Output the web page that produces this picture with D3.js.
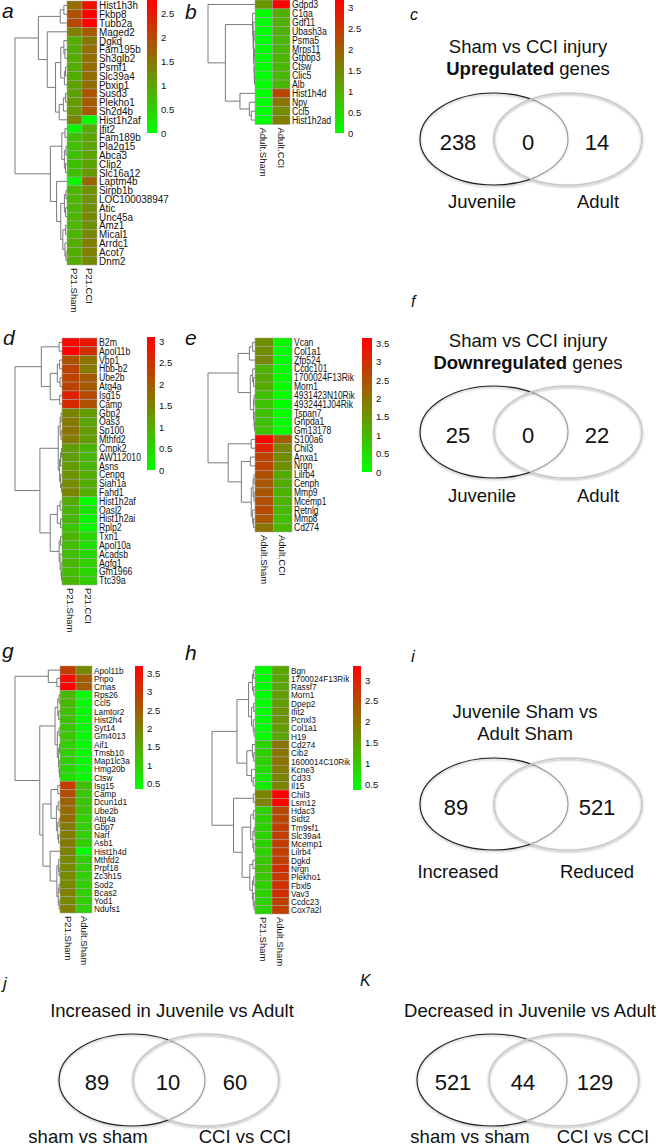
<!DOCTYPE html>
<html>
<head>
<meta charset="utf-8">
<script src="https://cdn.jsdelivr.net/npm/d3@7"></script>
<style>
body { margin: 0; background: #fff; }
</style>
</head>
<body>
<script>
const FONT = '"Liberation Sans", Arial, Helvetica, sans-serif';

// ---- heatmap data: genes, [col1, col2] values, merge trees [height, left, right] ----
const genesA = ["Hist1h3h","Fkbp8","Tubb2a","Maged2","Dgkd","Fam195b","Sh3glb2","Psmf1","Slc39a4","Pbxip1",
    "Susd3","Plekho1","Sh2d4b","Hist1h2af","Ifit2","Fam189b","Pla2g15","Abca3","Clip2","Slc16a12",
    "Laptm4b","Sirpb1b","LOC100038947","Atic","Unc45a","Amz1","Mical1","Arrdc1","Acot7","Dnm2"];
const valsA = [[1.6,2.6],[1.9,2.8],[2.0,2.8],[1.4,1.8],[0.9,1.5],[0.9,1.6],[0.9,1.6],[0.9,1.6],[0.9,1.6],[1.0,1.6],
    [1.0,1.9],[1.1,1.8],[1.1,1.8],[1.3,0.0],[0.1,0.9],[0.7,1.0],[0.7,1.0],[0.7,1.0],[0.7,1.0],[0.7,1.1],
    [0.1,1.7],[0.8,1.2],[0.8,1.2],[0.8,1.2],[0.8,1.3],[0.8,1.2],[0.8,1.3],[0.9,1.4],[0.9,1.4],[0.9,1.3]];
const treeA = [1,
    [0.55, [0.13, [0.06, 0, 1], 2],
           [0.38, 3, [0.22, [0.12, [0.06, 4, [0.04, 5, 6]], [0.05, [0.03, 7, 8], 9]], [0.15, [0.07, [0.03, 10, 11], 12], 13]]]],
    [0.32, [0.1, [0.04, 14, 15], [0.05, [0.02, 16, 17], [0.03, 18, 19]]],
           [0.2, 20, [0.12, [0.05, [0.02, 21, 22], [0.03, 23, 24]], [0.08, [0.03, 25, 26], [0.04, 27, [0.02, 28, 29]]]]]]];
const colsA = ["P21.Sham", "P21.CCI"];
const ticksA = [0, 0.5, 1, 1.5, 2, 2.5];

const genesB = ["Gdpd3","C1qa","Gdf11","Ubash3a","Psma5","Mrps11","Gtpbp3","Ctsw","Clic5","Alb","Hist1h4d","Npy","Ccl5","Hist1h2ad"];
const valsB = [[1.3,3.1],[0,1.0],[0,1.0],[0,1.0],[0,0.9],[0,0.9],[0,0.9],[0,0.9],[0,0.9],[0,0.9],[0,2.3],[0,1.7],[0,1.4],[0,1.6]];
const treeB = [1, 0, [0.63, [0.05, 1, [0.04, 2, [0.03, [0.02, 3, 4], [0.02, [0.01, 5, 6], [0.015, 7, [0.01, 8, 9]]]]]],
                        [0.32, 10, [0.12, 11, [0.08, 12, 13]]]]];
const colsB = ["Adult.Sham", "Adult.CCI"];
const ticksB = [0, 0.5, 1, 1.5, 2, 2.5, 3];

const genesD = ["B2m","Apol11b","Vbp1","Hbb-b2","Ube2b","Atg4a","Isg15","Camp","Gbp2","Oas3","Sp100","Mthfd2","Cmpk2","AW112010",
    "Asns","Cenpq","Siah1a","Fahd1","Hist1h2af","Oasl2","Hist1h2ai","Rplp2","Txn1","Apol10a","Acadsb","Agfg1","Gm1966","Ttc39a"];
const valsD = [[3.0,2.8],[3.1,2.5],[2.1,1.7],[2.3,1.6],[2.3,2.0],[2.3,2.0],[2.7,2.2],[2.6,2.1],[1.5,1.2],[1.6,1.1],
    [1.7,1.2],[1.6,1.2],[1.2,0.9],[1.2,0.9],[1.2,0.9],[1.3,1.0],[1.4,1.0],[1.5,1.0],[1.0,0.05],[0.9,0.3],
    [0.9,0.1],[0.7,0.1],[0.9,0.5],[0.8,0.4],[0.8,0.5],[0.9,0.6],[0.8,0.5],[0.9,0.6]];
const treeD = [1,
    [0.44, [0.06, 0, 1], [0.25, [0.1, [0.05, 2, 3], [0.04, 4, 5]], [0.05, 6, 7]]],
    [0.47, [0.08, [0.04, [0.02, 8, 9], [0.02, 10, 11]], [0.05, [0.03, [0.01, 12, 13], 14], [0.03, 15, [0.01, 16, 17]]]],
           [0.25, [0.1, [0.04, 18, 19], [0.03, 20, 21]], [0.06, [0.03, 22, 23], [0.04, 24, [0.02, 25, [0.01, 26, 27]]]]]]];
const colsD = ["P21.Sham", "P21.CCI"];
const ticksD = [0, 0.5, 1, 1.5, 2, 2.5, 3];

const genesE = ["Vcan","Col1a1","Zfp524","Ccdc101","1700024F13Rik","Morn1","4931423N10Rik","4932441J04Rik","Tspan7","Gnpda1",
    "Gm13178","S100a6","Chil3","Anxa1","Nrgn","Lilrb4","Cenph","Mmp9","Mcemp1","Retnlg","Mmp8","Cd274"];
const valsE = [[1.6,0.1],[1.6,0],[1.7,0],[1.1,0],[1.2,0],[1.2,0],[0.9,0],[0.9,0],[0.9,0],[0.9,0],[0.9,0],
    [3.6,2.3],[3.2,1.7],[2.7,1.6],[2.7,1.6],[2.5,1.2],[2.4,1.2],[2.4,1.1],[2.5,1.1],[2.6,1.0],[2.4,0.9],[2.0,1.0]];
const treeE = [1,
    [0.36, [0.12, [0.05, 0, 1], 2], [0.1, [0.05, 3, [0.03, 4, 5]], [0.03, [0.02, 6, 7], [0.02, 8, [0.01, 9, 10]]]]],
    [0.57, [0.08, 11, 12], [0.29, [0.1, 13, 14], [0.08, [0.04, [0.02, 15, 16], [0.02, 17, 18]], [0.05, 19, [0.03, 20, 21]]]]]];
const colsE = ["Adult.Sham", "Adult.CCI"];
const ticksE = [0, 0.5, 1, 1.5, 2, 2.5, 3, 3.5];

const genesG = ["Apol11b","Pnpo","Cmas","Rps26","Ccl5","Lamtor2","Hist2h4","Syt14","Gm4013","Aif1","Tmsb10","Map1lc3a","Hmg20b","Ctsw",
    "Isg15","Camp","Dcun1d1","Ube2b","Atg4a","Gbp7","Narf","Asb1","Hist1h4d","Mthfd2","Prpf18","Zc3h15","Sod2","Bcas2","Yod1","Ndufs1"];
const valsG = [[2.9,1.9],[3.5,2.5],[3.7,2.5],[1.3,0.4],[1.3,0.4],[1.2,0.4],[1.2,0.4],[1.1,0.4],[1.1,0.4],[1.0,0.4],
    [1.0,0.4],[1.0,0.4],[0.9,0.4],[0.8,0.4],[2.9,1.2],[2.7,1.1],[2.4,1.1],[2.3,1.1],[2.3,1.0],[2.1,1.0],
    [2.1,1.0],[2.1,1.0],[2.0,0.36],[1.9,1.0],[1.9,1.0],[1.9,1.0],[1.9,1.0],[2.0,1.0],[1.9,1.0],[2.0,1.0]];
const treeG = [1,
    [0.26, 0, [0.07, 1, 2]],
    [0.45, [0.11, [0.05, [0.02, 3, 4], [0.03, 5, 6]], [0.06, [0.02, 7, 8], [0.03, [0.01, 9, 10], [0.02, 11, [0.01, 12, 13]]]]],
           [0.38, [0.2, [0.05, 14, 15], [0.08, [0.04, 16, 17], [0.05, [0.02, 18, 19], [0.03, 20, 21]]]],
                  [0.22, 22, [0.07, [0.03, 23, [0.02, 24, 25]], [0.04, [0.02, 26, 27], [0.02, 28, 29]]]]]]];
const colsG = ["P21.Sham", "Adult.Sham"];
const ticksG = [0.5, 1, 1.5, 2, 2.5, 3, 3.5];

const genesH = ["Bgn","1700024F13Rik","Rassf7","Morn1","Dpep2","Ifit2","Pcnxl3","Col1a1","H19","Cd274","Cib2","1600014C10Rik",
    "Kcne3","Cd33","Il15","Chil3","Lsm12","Hdac3","Sidt2","Tm9sf1","Slc39a4","Mcemp1","Lilrb4","Dgkd","Nrgn","Plekho1",
    "Fbxl5","Vav3","Ccdc23","Cox7a2l"];
const valsH = [[0.4,1.4],[0.4,1.4],[0.4,1.4],[0.4,1.5],[0.4,1.5],[0.4,1.6],[0.4,1.6],[0.4,1.5],[0.4,1.4],[0.9,2.0],
    [0.9,2.0],[0.9,2.0],[0.8,1.9],[0.6,1.8],[0.6,1.8],[1.8,3.3],[1.8,3.3],[0.9,2.5],[0.9,2.5],[0.9,2.6],
    [0.9,2.6],[0.9,2.6],[0.9,2.6],[1.0,2.6],[1.1,2.8],[1.0,2.7],[0.9,2.8],[0.9,2.8],[0.9,2.6],[0.9,2.6]];
const treeH = [1,
    [0.42, [0.15, [0.06, [0.03, 0, 1], [0.03, 2, 3]], [0.08, [0.03, 4, 5], [0.04, 6, [0.02, 7, 8]]]],
           [0.19, [0.06, 9, [0.03, 10, 11]], [0.08, 12, [0.04, 13, 14]]]],
    [0.5, [0.04, 15, 16], [0.3, [0.1, [0.04, 17, 18], [0.05, [0.02, 19, 20], [0.03, 21, 22]]],
                               [0.12, [0.05, 23, 24], [0.06, [0.03, 25, 26], [0.04, 27, [0.02, 28, 29]]]]]]];
const colsH = ["P21.Sham", "Adult.Sham"];
const ticksH = [0.5, 1, 1.5, 2, 2.5, 3];

// ---- venn data: [left only, overlap, right only] ----
const countsC = [238, 0, 14];
const setsC = ["Juvenile", "Adult"];
const titleC = ["Sham vs CCI injury", "Upregulated genes"];
const countsF = [25, 0, 22];
const setsF = ["Juvenile", "Adult"];
const titleF = ["Sham vs CCI injury", "Downregulated genes"];
const countsI = [89, null, 521];
const setsI = ["Increased", "Reduced"];
const titleI = ["Juvenile Sham vs", "Adult Sham"];
const countsJ = [89, 10, 60];
const setsJ = ["sham vs sham", "CCI vs CCI"];
const titleJ = ["Increased in Juvenile vs Adult"];
const countsK = [521, 44, 129];
const setsK = ["sham vs sham", "CCI vs CCI"];
const titleK = ["Decreased in Juvenile vs Adult"];

const svg = d3.select("body").append("svg")
    .attr("width", 658)
    .attr("height", 1148)
    .attr("font-family", FONT);

const defs = svg.append("defs");
defs.append("filter").attr("id", "shadow")
    .attr("x", "-10%").attr("y", "-10%").attr("width", "120%").attr("height", "125%")
    .append("feDropShadow")
    .attr("dx", 0).attr("dy", 1.2).attr("stdDeviation", 0.9)
    .attr("flood-color", "#000").attr("flood-opacity", 0.35);

function drawHeatmap(p)
{
    const g = svg.append("g");
    const rows = d3.scaleBand().domain(d3.range(p.genes.length)).range([p.y0, p.y1]);
    const cols = d3.scaleBand().domain(p.cols).range([p.x0, p.x1]);
    const color = d3.scaleLinear().domain(p.range).range(["#00ff00", "#ff0000"]).interpolate(d3.interpolateRgb);

    const cells = p.values.flatMap((v, i) => v.map((val, j) => ({i: i, col: p.cols[j], val: val})));
    g.selectAll("rect.cell").data(cells).join("rect")
        .attr("class", "cell")
        .attr("x", d => cols(d.col))
        .attr("y", d => rows(d.i))
        .attr("width", cols.bandwidth())
        .attr("height", rows.bandwidth())
        .attr("fill", d => color(d.val))
        .attr("stroke", "#a4a4a4")
        .attr("stroke-width", 0.5);

    // gene names, a bit condensed like the R output
    g.selectAll("text.gene").data(p.genes).join("text")
        .attr("class", "gene")
        .attr("transform", (d, i) => `translate(${p.x1 + 2},${rows(i) + rows.bandwidth() / 2}) scale(${p.sx},1)`)
        .attr("dy", "0.36em")
        .attr("font-size", p.fs)
        .attr("fill", "#111")
        .text(d => d);

    g.selectAll("text.col").data(p.cols).join("text")
        .attr("class", "col")
        .attr("transform", d => `translate(${cols(d) + cols.bandwidth() / 2},${p.y1 + 3}) rotate(90)`)
        .attr("dy", "0.35em")
        .attr("font-size", 9.5)
        .attr("fill", "#111")
        .text(d => d);

    // dendrogram from the merge tree
    const hx = d3.scaleLinear().domain([0, 1]).range([p.x0, p.dx]);
    const segs = [];
    function walk(node) {
        if (typeof node === "number") {
            return {x: hx(0), y: rows(node) + rows.bandwidth() / 2};
        }
        const kids = node.slice(1).map(walk);
        const x = hx(node[0]);
        kids.forEach(k => segs.push([[k.x, k.y], [x, k.y]]));
        segs.push([[x, kids[0].y], [x, kids[kids.length - 1].y]]);
        return {x: x, y: (kids[0].y + kids[kids.length - 1].y) / 2};
    }
    walk(p.tree);
    g.append("g").selectAll("path").data(segs).join("path")
        .attr("d", d => d3.line()(d))
        .attr("fill", "none")
        .attr("stroke", "#7a7a7a")
        .attr("stroke-width", 1);

    // colour key
    const y = d3.scaleLinear().domain(p.range).range([p.cb.y1, p.cb.y0]);
    const gradId = "grad-" + p.id;
    const grad = defs.append("linearGradient").attr("id", gradId)
        .attr("x1", 0).attr("y1", 1).attr("x2", 0).attr("y2", 0);
    d3.range(0, 1.0001, 0.1).forEach(t => {
        grad.append("stop")
            .attr("offset", t)
            .attr("stop-color", color(p.range[0] + t * (p.range[1] - p.range[0])));
    });
    g.append("rect")
        .attr("x", p.cb.x)
        .attr("y", p.cb.y0)
        .attr("width", p.cb.w)
        .attr("height", p.cb.y1 - p.cb.y0)
        .attr("fill", `url(#${gradId})`);
    g.append("g")
        .attr("transform", `translate(${p.cb.x + p.cb.w},0)`)
        .call(d3.axisRight(y).tickValues(p.ticks).tickSize(0).tickPadding(4).tickFormat(d3.format("")))
        .call(a => a.select(".domain").remove())
        .attr("font-family", FONT)
        .attr("font-size", 9.5)
        .selectAll("text").attr("fill", "#111");

    g.append("text")
        .attr("x", p.letter[1])
        .attr("y", p.letter[2])
        .attr("font-size", 21)
        .attr("font-style", "italic")
        .attr("fill", "#111")
        .text(p.letter[0]);
}

function drawVenn(v)
{
    const g = svg.append("g");
    g.append("text")
        .attr("x", v.letter[1]).attr("y", v.letter[2])
        .attr("font-size", v.letter[3]).attr("font-style", "italic").attr("fill", "#111")
        .text(v.letter[0]);

    v.title.forEach((line, i) => {
        const t = g.append("text")
            .attr("x", v.tx)
            .attr("y", v.ty + i * 21.5)
            .attr("text-anchor", "middle")
            .attr("font-size", 18.5)
            .attr("fill", "#111");
        if (v.bold && i === 1) {
            const word = line.split(" ")[0];
            t.append("tspan").attr("font-weight", "bold").text(word);
            t.append("tspan").text(line.slice(word.length));
        } else {
            t.text(line);
        }
    });

    // dark set outline, pale veil + pale outline of the second set on top
    g.append("ellipse")
        .attr("cx", v.cx[0]).attr("cy", v.cy).attr("rx", v.rx).attr("ry", v.ry)
        .attr("fill", "none").attr("stroke", "#1e1e1e").attr("stroke-width", 1.1)
        .attr("filter", "url(#shadow)");
    g.append("ellipse")
        .attr("cx", v.cx[1]).attr("cy", v.cy).attr("rx", v.rx).attr("ry", v.ry)
        .attr("fill", "#fff").attr("fill-opacity", 0.55).attr("stroke", "none");
    g.append("ellipse")
        .attr("cx", v.cx[1]).attr("cy", v.cy).attr("rx", v.rx).attr("ry", v.ry)
        .attr("fill", "none")
        .attr("stroke", "#c8c8c8").attr("stroke-width", 1.5)
        .attr("filter", "url(#shadow)");

    g.selectAll("text.num").data(v.counts.map((c, i) => ({c: c, x: v.nx[i]})).filter(d => d.c !== null))
        .join("text")
        .attr("class", "num")
        .attr("x", d => d.x).attr("y", v.ny)
        .attr("text-anchor", "middle")
        .attr("font-size", 22)
        .attr("fill", "#111")
        .text(d => d.c);

    g.selectAll("text.set").data(v.sets).join("text")
        .attr("class", "set")
        .attr("x", (d, i) => v.lx[i]).attr("y", v.ly)
        .attr("text-anchor", "middle")
        .attr("font-size", 18.5)
        .attr("fill", "#111")
        .text(d => d);
}

drawHeatmap({id: "a", genes: genesA, values: valsA, cols: colsA, tree: treeA, ticks: ticksA, range: [0, 2.79],
    x0: 67, x1: 97, y0: 1, y1: 265, dx: 15, fs: 11, sx: 0.9, cb: {x: 147, w: 10, y0: 0, y1: 133}, letter: ["a", 2, 18]});
drawHeatmap({id: "b", genes: genesB, values: valsB, cols: colsB, tree: treeB, ticks: ticksB, range: [0, 3.17],
    x0: 255, x1: 290, y0: 0, y1: 124.5, dx: 208, fs: 10, sx: 0.87, cb: {x: 335, w: 9, y0: 0, y1: 133}, letter: ["b", 185, 19]});
drawHeatmap({id: "d", genes: genesD, values: valsD, cols: colsD, tree: treeD, ticks: ticksD, range: [0, 3.1],
    x0: 62, x1: 97, y0: 338, y1: 585, dx: 15, fs: 10, sx: 0.87, cb: {x: 147, w: 8, y0: 337, y1: 470}, letter: ["d", 3, 345]});
drawHeatmap({id: "e", genes: genesE, values: valsE, cols: colsE, tree: treeE, ticks: ticksE, range: [0, 3.64],
    x0: 255, x1: 292, y0: 338, y1: 532, dx: 208, fs: 10, sx: 0.85, cb: {x: 362, w: 10, y0: 338, y1: 472}, letter: ["e", 185, 345]});
drawHeatmap({id: "g", genes: genesG, values: valsG, cols: colsG, tree: treeG, ticks: ticksG, range: [0.36, 3.69],
    x0: 60, x1: 92, y0: 666, y1: 913, dx: 15, fs: 9.5, sx: 0.87, cb: {x: 135, w: 8, y0: 666, y1: 789}, letter: ["g", 2, 658]});
drawHeatmap({id: "h", genes: genesH, values: valsH, cols: colsH, tree: treeH, ticks: ticksH, range: [0.36, 3.34],
    x0: 255, x1: 289, y0: 666, y1: 914, dx: 212, fs: 9.5, sx: 0.87, cb: {x: 353, w: 8, y0: 666, y1: 790}, letter: ["h", 185, 660]});

drawVenn({letter: ["c", 410, 20, 16], title: titleC, bold: true, tx: 528, ty: 53, counts: countsC, sets: setsC,
    cx: [494, 568], cy: 139, rx: 74, ry: 46, nx: [458, 528, 597], ny: 150, lx: [482, 598], ly: 208});
drawVenn({letter: ["f", 411, 307, 16], title: titleF, bold: true, tx: 528, ty: 347, counts: countsF, sets: setsF,
    cx: [494, 568], cy: 432, rx: 74, ry: 46, nx: [458, 528, 597], ny: 443, lx: [482, 598], ly: 502});
drawVenn({letter: ["i", 411, 662, 17], title: titleI, bold: false, tx: 525, ty: 718, counts: countsI, sets: setsI,
    cx: [494, 568], cy: 804, rx: 74, ry: 46, nx: [456, 528, 597], ny: 815, lx: [458, 597], ly: 878});
drawVenn({letter: ["j", 3, 989, 17], title: titleJ, bold: false, tx: 172, ty: 1017, counts: countsJ, sets: setsJ,
    cx: [132, 206], cy: 1080, rx: 73, ry: 46, nx: [97, 168, 235], ny: 1090, lx: [88, 245], ly: 1143});
drawVenn({letter: ["K", 360, 986, 16], title: titleK, bold: false, tx: 530, ty: 1017, counts: countsK, sets: setsK,
    cx: [492, 564], cy: 1080, rx: 75, ry: 46, nx: [453, 523, 595], ny: 1090, lx: [470, 603], ly: 1143});
</script>
</body>
</html>
